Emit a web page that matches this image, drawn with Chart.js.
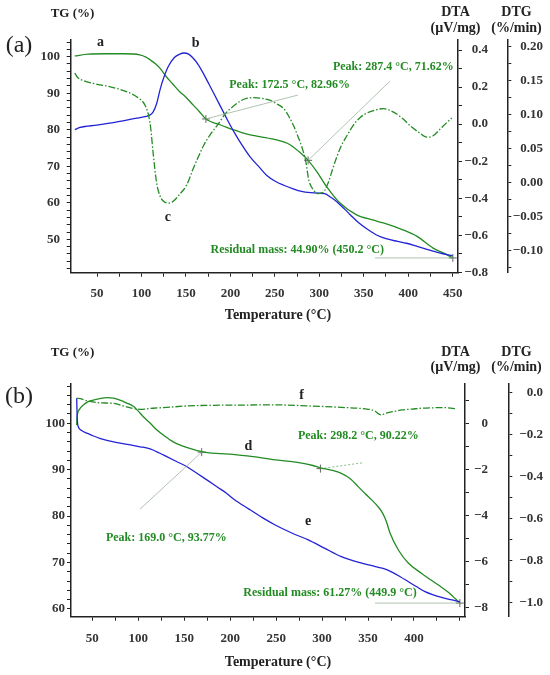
<!DOCTYPE html>
<html>
<head>
<meta charset="utf-8">
<script src="https://cdn.jsdelivr.net/npm/chart.js@4.4.0/dist/chart.umd.min.js"></script>
<style>
  html, body { margin: 0; padding: 0; background: #fff; }
  #wrap { position: relative; width: 550px; height: 675px; }
  #boxA { position: absolute; left: 0; top: 0; width: 550px; height: 325px; }
  #boxB { position: absolute; left: 0; top: 325px; width: 550px; height: 350px; }
</style>
</head>
<body>
<div id="wrap">
  <div id="boxA"><canvas id="chartA"></canvas></div>
  <div id="boxB"><canvas id="chartB"></canvas></div>
</div>
<script>
// ---- panel (a) ----
const tgTempA = [25, 40, 60, 80, 98, 105, 110, 116, 121, 128, 135, 143, 150, 158, 165, 172.5, 180, 189, 203, 220, 233, 252, 267, 280, 287.4, 297, 308, 323, 342, 360, 372, 394, 410, 428, 440, 450.2];
const tgA     = [100.2, 100.7, 100.8, 100.8, 100.5, 99.9, 99.1, 98.0, 96.8, 94.5, 92.6, 90.4, 88.9, 86.8, 85.0, 82.96, 82.0, 81.3, 80.0, 78.7, 78.1, 77.2, 75.9, 73.4, 71.62, 68.6, 64.5, 60.0, 56.7, 55.3, 54.5, 52.6, 50.8, 47.6, 46.2, 44.9];

const dtaTempA = [25, 31, 50, 70, 90, 100, 108, 113, 117, 121, 125, 130, 137, 143, 148, 153, 158, 164, 170, 176, 182, 190, 197, 205, 212, 222, 233, 241, 250, 260, 270, 280, 290, 300, 306, 313, 320, 335, 345, 355, 365, 376, 388, 398, 410, 421, 435, 450];
const dtaA     = [-0.03, -0.018, -0.005, 0.01, 0.028, 0.037, 0.046, 0.065, 0.11, 0.188, 0.25, 0.31, 0.36, 0.378, 0.384, 0.378, 0.357, 0.32, 0.27, 0.215, 0.16, 0.085, 0.02, -0.05, -0.105, -0.175, -0.235, -0.277, -0.307, -0.33, -0.348, -0.363, -0.37, -0.373, -0.375, -0.395, -0.42, -0.49, -0.535, -0.57, -0.6, -0.62, -0.633, -0.643, -0.66, -0.676, -0.695, -0.711];

const dtgTempA = [25, 28, 35, 46, 65, 83, 95, 104, 108, 110.5, 113, 117, 121, 126.5, 131, 136, 143, 151, 158, 164, 170, 177, 185, 196, 204, 211, 218, 226, 235, 245, 252, 260, 266, 271, 276, 280, 285, 288, 293, 299, 304.5, 310, 315, 320, 325, 331, 338, 346, 353, 361, 372, 380, 387, 395, 402, 412, 421, 428, 436, 443, 449];
const dtgA     = [0.161, 0.155, 0.15, 0.146, 0.141, 0.134, 0.126, 0.114, 0.099, 0.079, 0.045, 0.0, -0.02, -0.029, -0.03, -0.027, -0.017, -0.003, 0.02, 0.038, 0.055, 0.07, 0.084, 0.104, 0.113, 0.12, 0.124, 0.125, 0.124, 0.121, 0.116, 0.109, 0.097, 0.084, 0.068, 0.054, 0.03, 0.005, -0.01, -0.016, -0.014, 0.0, 0.02, 0.039, 0.055, 0.069, 0.084, 0.096, 0.102, 0.106, 0.109, 0.106, 0.101, 0.093, 0.084, 0.074, 0.067, 0.069, 0.079, 0.088, 0.095];

const peakTempA = [172.5, 287.4, 450.2];
const peakTgA   = [82.96, 71.62, 44.90];

// ---- panel (b) ----
const tgTempB = [33, 33.5, 36, 40, 45, 51, 58, 66, 73, 80, 87, 95, 100, 105.5, 113, 120, 129, 138, 147, 156, 169, 185, 203, 225, 249, 265, 278, 290, 298.2, 310, 321, 331, 339, 347, 354, 361, 366, 370, 374, 383, 394, 408, 418, 427, 438, 449.9];
const tgB     = [99.6, 101.5, 103.0, 103.9, 104.6, 105.0, 105.3, 105.5, 105.4, 105.0, 104.4, 103.6, 102.6, 101.4, 100.0, 98.6, 97.2, 96.0, 95.2, 94.6, 93.9, 93.5, 93.3, 92.8, 92.1, 91.8, 91.4, 90.9, 90.4, 89.9, 89.2, 88.0, 86.4, 84.8, 83.5, 82.0, 80.6, 78.8, 76.3, 72.7, 69.85, 67.7, 66.3, 65.1, 63.5, 61.27];

const dtaTempB = [33, 33.6, 34.8, 38, 44, 50, 58, 67, 77, 90, 102, 110, 116, 123, 131, 141, 153, 163, 175, 186, 196, 204, 220, 235, 249, 267, 285, 303, 321, 340, 358, 368, 376, 385, 394, 403, 412, 421, 430, 440, 450];
const dtaB     = [1.09, 0.2, -0.15, -0.3, -0.43, -0.53, -0.65, -0.75, -0.84, -0.93, -1.02, -1.08, -1.16, -1.29, -1.45, -1.65, -1.89, -2.15, -2.47, -2.77, -3.04, -3.3, -3.72, -4.1, -4.42, -4.77, -5.07, -5.44, -5.8, -6.05, -6.23, -6.33, -6.47, -6.67, -6.89, -7.11, -7.32, -7.46, -7.57, -7.67, -7.76];

const dtgTempB = [33, 34.8, 44, 58, 73, 87, 102, 116, 131, 153, 182, 211, 249, 285, 321, 350, 357.6, 361, 365, 368, 372, 380, 387, 398, 408, 420, 430, 440, 446.5];
const dtgB     = [-0.027, -0.027, -0.038, -0.048, -0.051, -0.067, -0.079, -0.074, -0.07, -0.063, -0.06, -0.059, -0.058, -0.063, -0.07, -0.079, -0.087, -0.1, -0.106, -0.1, -0.095, -0.088, -0.082, -0.078, -0.074, -0.072, -0.071, -0.073, -0.078];

const peakTempB = [169.0, 298.2, 449.9];
const peakTgB   = [93.77, 90.22, 61.27];

// tick labels
const xLabelsA   = [50, 100, 150, 200, 250, 300, 350, 400, 450];
const xLabelsB   = [50, 100, 150, 200, 250, 300, 350, 400];
const tgLabelsA  = [50, 60, 70, 80, 90, 100];
const tgLabelsB  = [60, 70, 80, 90, 100];
const dtaLabelsA = [-0.8, -0.6, -0.4, -0.2, 0, 0.2, 0.4];
const dtaLabelsB = [-8, -6, -4, -2, 0];
const dtgLabelsA = [-0.1, -0.05, 0, 0.05, 0.1, 0.15, 0.2];
const dtgLabelsB = [-1, -0.8, -0.6, -0.4, -0.2, 0];

const GREEN = '#238b23';
const BLUE = '#2323d6';
const AXIS = '#222';
const SERIF = '"Liberation Serif", "Times New Roman", serif';

Chart.defaults.font.family = SERIF;
Chart.defaults.font.size = 13;
Chart.defaults.font.weight = 'bold';
Chart.defaults.color = '#333';

function pts(xs, ys) {
  return xs.map((x, i) => ({ x: x, y: ys[i] }));
}

function stepTicks(min, max, step, from) {
  const out = [];
  let start = Math.ceil((from !== undefined ? from : min) / step - 1e-9);
  for (let i = start; i * step <= max + 1e-9; i++) {
    out.push({ value: +(i * step).toFixed(6) });
  }
  return out;
}

function minus(s) { return s.replace('-', '\u2212'); }

function xAxis(min, max, labels, height, pad) {
  return {
    type: 'linear', position: 'bottom', min: min, max: max,
    border: { color: AXIS, width: 1.5 },
    grid: { drawOnChartArea: false, tickLength: 4, color: AXIS },
    ticks: {
      autoSkip: false, maxRotation: 0, padding: pad,
      callback: v => labels.includes(v) ? String(v) : ''
    },
    afterBuildTicks: s => { s.ticks = stepTicks(min, max, 25, 50); },
    afterFit: s => { s.height = height; }
  };
}

// left axis gets Chart.js labels; right axes get right-aligned labels from the plugin
function yAxis(pos, min, max, step, labels, digits, width, pad, weight) {
  return {
    type: 'linear', position: pos, min: min, max: max, weight: weight,
    border: { color: AXIS, width: 1.5 },
    grid: { drawOnChartArea: false, tickLength: 4, color: AXIS },
    ticks: {
      display: pos === 'left', autoSkip: false, padding: pad,
      callback: v => labels.some(l => Math.abs(l - v) < 1e-6) ? minus(v.toFixed(digits)) : ''
    },
    afterBuildTicks: s => { s.ticks = stepTicks(min, max, step); },
    afterFit: s => { s.width = width; }
  };
}

function lineSet(data, color, axis, dash) {
  return {
    data: data, yAxisID: axis, borderColor: color, borderWidth: 1.3,
    borderDash: dash || [], pointRadius: 0, fill: false,
    cubicInterpolationMode: 'monotone'
  };
}

// draws right-axis labels, titles, letters, peak texts and their leader lines
const textMarks = {
  id: 'textMarks',
  afterDatasetsDraw(chart, args, opts) {
    const ctx = chart.ctx;
    const xs = chart.scales.x, ys = chart.scales.yTG;
    ctx.save();
    (opts.leaders || []).forEach(l => {
      ctx.beginPath();
      ctx.strokeStyle = l.color;
      ctx.lineWidth = 1;
      ctx.setLineDash(l.dash || []);
      ctx.moveTo(xs.getPixelForValue(l.from[0]), ys.getPixelForValue(l.from[1]));
      ctx.lineTo(xs.getPixelForValue(l.to[0]), ys.getPixelForValue(l.to[1]));
      ctx.stroke();
    });
    ctx.setLineDash([]);
    ctx.textBaseline = 'middle';
    (opts.notes || []).forEach(t => {
      ctx.font = t.font;
      ctx.fillStyle = t.color;
      ctx.textAlign = 'center';
      ctx.fillText(t.text, xs.getPixelForValue(t.x), ys.getPixelForValue(t.y));
    });
    (opts.axisLabels || []).forEach(a => {
      const sc = chart.scales[a.axis];
      ctx.font = 'bold 13px ' + SERIF;
      ctx.fillStyle = '#333';
      ctx.textAlign = 'right';
      a.values.forEach(v => {
        ctx.fillText(minus(v.toFixed(a.digits)), sc.left + a.offset, sc.getPixelForValue(v));
      });
    });
    (opts.titles || []).forEach(t => {
      ctx.font = t.font;
      ctx.fillStyle = t.color || '#222';
      ctx.textAlign = 'center';
      ctx.fillText(t.text, t.x, t.y);
    });
    ctx.restore();
  }
};

const letterFont = 'bold 14px ' + SERIF;
const noteFont = 'bold 12px ' + SERIF;
const titleFont = 'bold 14px ' + SERIF;
const leaderColor = 'rgba(150,175,150,0.75)';

function panelTitles(top, tgY, unitY, letter, letterY, tempY) {
  return [
    { text: 'TG (%)', x: 72.5, y: tgY, font: 'bold 13px ' + SERIF },
    { text: 'DTA', x: 455.5, y: top, font: titleFont },
    { text: '(\u00b5V/mg)', x: 455.5, y: unitY, font: titleFont },
    { text: 'DTG', x: 516.5, y: top, font: titleFont },
    { text: '(%/min)', x: 516.5, y: unitY, font: titleFont },
    { text: letter, x: 19, y: letterY, font: '24px ' + SERIF },
    { text: 'Temperature (\u00b0C)', x: 278, y: tempY, font: titleFont }
  ];
}

const chartA = new Chart(document.getElementById('chartA'), {
  type: 'line',
  data: {
    datasets: [
      lineSet(pts(dtgTempA, dtgA), GREEN, 'yDTG', [7, 2, 1.5, 2]),
      lineSet(pts(dtaTempA, dtaA), BLUE, 'yDTA'),
      lineSet(pts(tgTempA, tgA), GREEN, 'yTG'),
      {
        data: pts(peakTempA, peakTgA), yAxisID: 'yTG', showLine: false,
        pointStyle: 'cross', pointRadius: 4, borderColor: '#666', borderWidth: 1
      }
    ]
  },
  options: {
    responsive: true, maintainAspectRatio: false, animation: false,
    layout: { padding: { top: 39.3, left: 0, right: 0, bottom: 0 } },
    scales: {
      x: xAxis(20.4, 456, xLabelsA, 52.3, 8.8),
      yTG: yAxis('left', 40.86, 104.76, 2, tgLabelsA, 0, 70.7, 6.7, 0),
      yDTA: yAxis('right', -0.802, 0.458, 0.1, dtaLabelsA, 1, 49.3, 0, 0),
      yDTG: yAxis('right', -0.1324, 0.2109, 0.025, dtgLabelsA, 2, 42.7, 0, 1)
    },
    plugins: {
      legend: { display: false },
      tooltip: { enabled: false },
      textMarks: {
        leaders: [
          { from: [172.5, 82.96], to: [276, 89.5], color: leaderColor },
          { from: [287.4, 71.62], to: [379.5, 93.3], color: leaderColor },
          { from: [450.2, 44.9], to: [362.6, 44.9], color: leaderColor }
        ],
        notes: [
          { text: 'a', x: 53.9, y: 103.83, font: letterFont, color: '#222' },
          { text: 'b', x: 161, y: 103.67, font: letterFont, color: '#222' },
          { text: 'c', x: 129.8, y: 56.1, font: letterFont, color: '#222' },
          { text: 'Peak: 172.5 \u00b0C, 82.96%', x: 266.7, y: 92.25, font: noteFont, color: GREEN },
          { text: 'Peak: 287.4 \u00b0C, 71.62%', x: 383.2, y: 97.1, font: noteFont, color: GREEN },
          { text: 'Residual mass: 44.90% (450.2 \u00b0C)', x: 275.2, y: 47.07, font: noteFont, color: GREEN }
        ],
        axisLabels: [
          { axis: 'yDTA', values: dtaLabelsA, digits: 1, offset: 30 },
          { axis: 'yDTG', values: dtgLabelsA, digits: 2, offset: 35.7 }
        ],
        titles: panelTitles(12.7, 14, 28.3, '(a)', 46, 315)
      }
    }
  },
  plugins: [textMarks]
});

const chartB = new Chart(document.getElementById('chartB'), {
  type: 'line',
  data: {
    datasets: [
      lineSet(pts(dtgTempB, dtgB), GREEN, 'yDTG', [7, 2, 1.5, 2]),
      lineSet(pts(dtaTempB, dtaB), BLUE, 'yDTA'),
      lineSet(pts(tgTempB, tgB), GREEN, 'yTG'),
      {
        data: pts(peakTempB, peakTgB), yAxisID: 'yTG', showLine: false,
        pointStyle: 'cross', pointRadius: 4, borderColor: '#666', borderWidth: 1
      }
    ]
  },
  options: {
    responsive: true, maintainAspectRatio: false, animation: false,
    layout: { padding: { top: 58.3, left: 0, right: 0, bottom: 0 } },
    scales: {
      x: xAxis(26.8, 455.5, xLabelsB, 58.3, 9.8),
      yTG: yAxis('left', 58.34, 108.6, 2, tgLabelsB, 0, 71, 2, 0),
      yDTA: yAxis('right', -8.41, 1.74, 1, dtaLabelsB, 0, 43.3, 0, 0),
      yDTG: yAxis('right', -1.069, 0.045, 0.1, dtgLabelsB, 1, 41.7, 0, 1)
    },
    plugins: {
      legend: { display: false },
      tooltip: { enabled: false },
      textMarks: {
        leaders: [
          { from: [298.2, 90.22], to: [344.9, 91.5], color: 'rgba(80,160,80,0.7)', dash: [2, 2] },
          { from: [169.0, 93.77], to: [101.9, 81.5], color: leaderColor },
          { from: [449.9, 61.27], to: [357.6, 61.27], color: leaderColor }
        ],
        notes: [
          { text: 'd', x: 219.7, y: 95.1, font: letterFont, color: '#222' },
          { text: 'e', x: 284.7, y: 78.8, font: letterFont, color: '#222' },
          { text: 'f', x: 277.8, y: 106.1, font: letterFont, color: '#222' },
          { text: 'Peak: 298.2 \u00b0C, 90.22%', x: 339.4, y: 97.26, font: noteFont, color: GREEN },
          { text: 'Peak: 169.0 \u00b0C, 93.77%', x: 130.5, y: 75.2, font: noteFont, color: GREEN },
          { text: 'Residual mass: 61.27% (449.9 \u00b0C)', x: 308.6, y: 63.39, font: noteFont, color: GREEN }
        ],
        axisLabels: [
          { axis: 'yDTA', values: dtaLabelsB, digits: 0, offset: 23 },
          { axis: 'yDTG', values: dtgLabelsB, digits: 1, offset: 34.7 }
        ],
        titles: panelTitles(27.7, 27.7, 42.7, '(b)', 71.7, 337.3)
      }
    }
  },
  plugins: [textMarks]
});
</script>
</body>
</html>
